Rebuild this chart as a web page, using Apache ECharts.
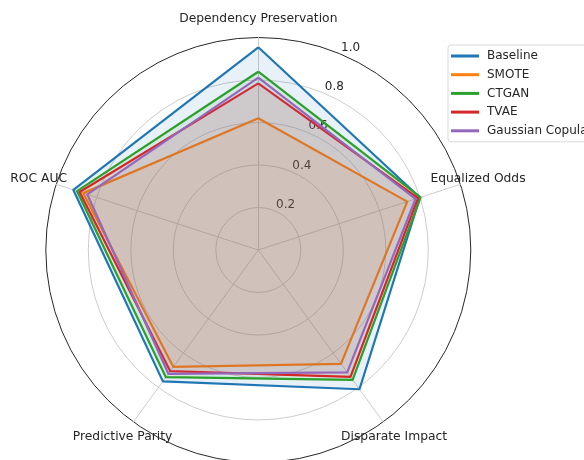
<!DOCTYPE html>
<html>
<head>
<meta charset="utf-8">
<script src="https://cdn.jsdelivr.net/npm/echarts@6/dist/echarts.min.js"></script>
<style>
  html, body { margin: 0; padding: 0; background: #fff; }
  #chart { width: 584px; height: 460px; }
</style>
</head>
<body>
<div id="chart"></div>
<script>
// metrics, counter-clockwise from the top
const metrics = ["Dependency Preservation", "ROC AUC", "Predictive Parity", "Disparate Impact", "Equalized Odds"];
const methods = ["Baseline", "SMOTE", "CTGAN", "TVAE", "Gaussian Copula"];
const colors = ["#1f77b4", "#ff7f0e", "#2ca02c", "#d62728", "#9467bd"];

const baseline = [0.954, 0.915, 0.764, 0.81, 0.80];
const smote = [0.62, 0.866, 0.68, 0.662, 0.737];
const ctgan = [0.839, 0.897, 0.74, 0.755, 0.803];
const tvae = [0.784, 0.884, 0.705, 0.738, 0.79];
const gaussianCopula = [0.811, 0.846, 0.72, 0.712, 0.778];
const allValues = [baseline, smote, ctgan, tvae, gaussianCopula];

const radialTicks = [0, 0.2, 0.4, 0.6, 0.8, 1.0];

const font = "DejaVu Sans";
const textColor = "#262626";
const cx = 258.3, cy = 250, R = 212.5;

const chart = echarts.init(document.getElementById("chart"), null, { renderer: "canvas" });

const option = {
  animation: false,
  textStyle: { fontFamily: font },
  legend: {
    orient: "vertical",
    left: 448,
    top: 45,
    data: methods,
    icon: "rect",
    itemWidth: 28,
    itemHeight: 3,
    itemGap: 4.7,
    padding: [4, 12, 4, 3],
    borderColor: "#d9d9d9",
    borderWidth: 1,
    borderRadius: 3,
    textStyle: { fontFamily: font, fontSize: 12, color: textColor, lineHeight: 14, padding: [0, 0, 0, 3] }
  },
  radar: {
    center: [cx, cy],
    radius: R,
    shape: "circle",
    startAngle: 90,
    splitNumber: 5,
    indicator: metrics.map(m => ({ name: m, min: 0, max: 1 })),
    nameGap: 18.5,
    axisName: { color: textColor, fontFamily: font, fontSize: 12.3, align: "center", verticalAlign: "middle" },
    axisLine: { lineStyle: { color: "#cccccc", width: 1 } },
    splitLine: { lineStyle: { color: radialTicks.map((t, i) => (i === radialTicks.length - 1 ? "#262626" : "#cccccc")), width: 1 } },
    splitArea: { show: false },
    axisTick: { show: false },
    axisLabel: { show: false }
  },
  // invisible polar system only used to place the radial tick labels
  polar: { center: [cx + 11, cy - 6], radius: R },
  angleAxis: { type: "value", min: 0, max: 360, startAngle: 67.5, show: false },
  radiusAxis: {
    type: "value",
    min: 0,
    max: 1,
    interval: 0.2,
    axisLine: { show: false },
    axisTick: { show: false },
    splitLine: { show: false },
    axisLabel: {
      margin: 0,
      showMinLabel: false,
      align: "center",
      verticalAlign: "middle",
      color: textColor,
      fontFamily: font,
      fontSize: 12,
      formatter: v => v.toFixed(1)
    }
  },
  series: methods.map((name, i) => ({
    name: name,
    type: "radar",
    symbol: "none",
    lineStyle: { color: colors[i], width: 2.2 },
    itemStyle: { color: colors[i] },
    areaStyle: { color: colors[i], opacity: 0.1 },
    data: [{ name: name, value: allValues[i] }]
  }))
};

chart.setOption(option);
</script>
</body>
</html>
